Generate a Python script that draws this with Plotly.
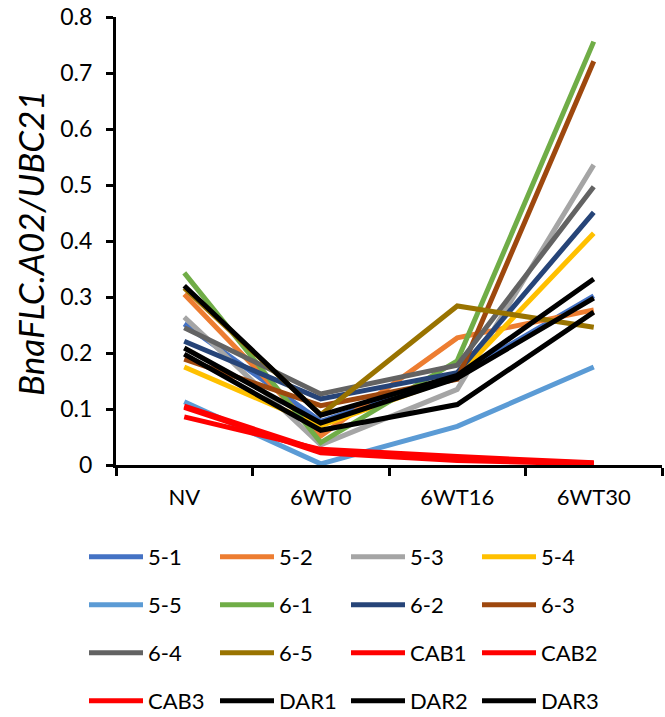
import plotly.graph_objects as go

categories = ["NV", "6WT0", "6WT16", "6WT30"]

series_names = ["5-1", "5-2", "5-3", "5-4", "5-5", "6-1", "6-2", "6-3",
                "6-4", "6-5", "CAB1", "CAB2", "CAB3", "DAR1", "DAR2", "DAR3"]

v_5_1 = [0.252, 0.078, 0.160, 0.302]
v_5_2 = [0.305, 0.052, 0.227, 0.277]
v_5_3 = [0.264, 0.036, 0.135, 0.536]
v_5_4 = [0.175, 0.070, 0.158, 0.414]
v_5_5 = [0.113, 0.002, 0.069, 0.175]
v_6_1 = [0.343, 0.040, 0.186, 0.756]
v_6_2 = [0.221, 0.118, 0.165, 0.451]
v_6_3 = [0.189, 0.106, 0.153, 0.721]
v_6_4 = [0.245, 0.127, 0.178, 0.497]
v_6_5 = [0.316, 0.090, 0.284, 0.246]
v_cab1 = [0.105, 0.025, 0.012, 0.003]
v_cab2 = [0.103, 0.022, 0.008, 0.002]
v_cab3 = [0.086, 0.028, 0.015, 0.004]
v_dar1 = [0.320, 0.089, 0.160, 0.332]
v_dar2 = [0.209, 0.075, 0.155, 0.298]
v_dar3 = [0.198, 0.062, 0.108, 0.273]

values = [v_5_1, v_5_2, v_5_3, v_5_4, v_5_5, v_6_1, v_6_2, v_6_3,
          v_6_4, v_6_5, v_cab1, v_cab2, v_cab3, v_dar1, v_dar2, v_dar3]

colors = ["#4472C4", "#ED7D31", "#A5A5A5", "#FFC000", "#5B9BD5", "#70AD47",
          "#264478", "#9E480E", "#636363", "#997300", "#FF0000", "#FF0000",
          "#FF0000", "#000000", "#000000", "#000000"]

FONT = "Lato, Calibri, sans-serif"

fig = go.Figure()
legend_ids = ["legend", "legend2", "legend3", "legend4"]
for i, (name, vals, col) in enumerate(zip(series_names, values, colors)):
    fig.add_trace(go.Scatter(
        x=categories, y=vals, mode="lines", name=name,
        line=dict(color=col, width=5),
        legend=legend_ids[i // 4],
    ))

# plot area in px: x 116..662, y 17..465
L, R, T, B = 116, 3, 17, 252
W, H = 665, 717
pw = W - L - R
ph = H - T - B

def py(px_y):
    return (H - B - px_y) / ph

def pxx(px_x):
    return (px_x - L) / pw

row_y = [557, 605, 653, 701]
legend_common = dict(
    orientation="h", entrywidth=62, entrywidthmode="pixels",
    font=dict(family=FONT, size=22, color="#000000"),
    bgcolor="rgba(0,0,0,0)", itemwidth=54,
    xanchor="left", yanchor="middle",
)
layout_legends = {}
for lid, ry in zip(legend_ids, row_y):
    layout_legends[lid] = dict(x=pxx(84), y=py(ry), **legend_common)

fig.update_layout(
    width=W, height=H,
    margin=dict(l=L, r=R, t=T, b=B, autoexpand=False),
    paper_bgcolor="white", plot_bgcolor="white",
    showlegend=True,
    font=dict(family=FONT, size=22, color="#000000"),
    xaxis=dict(
        type="category", range=[-0.5, 3.5],
        showline=True, linecolor="#000000", linewidth=3,
        ticks="outside", tickson="boundaries", ticklen=8, tickwidth=3,
        tickcolor="#000000", showgrid=False, zeroline=False,
        ticklabelstandoff=11,
        tickfont=dict(family=FONT, size=22, color="#000000"),
    ),
    yaxis=dict(
        range=[0, 0.8], dtick=0.1, tick0=0,
        showline=True, linecolor="#000000", linewidth=3,
        ticks="outside", ticklen=7, tickwidth=3, tickcolor="#000000",
        showgrid=False, zeroline=False, ticklabelstandoff=9,
        tickfont=dict(family=FONT, size=23, color="#000000"),
        tickformat="~g",
    ),
    annotations=[dict(
        text="<i>BnaFLC.A02/UBC21</i>", textangle=-90,
        xref="paper", yref="paper", x=pxx(30), y=py(243),
        xanchor="center", yanchor="middle", showarrow=False,
        font=dict(family=FONT, size=35, color="#000000"),
    )],
    **layout_legends,
)

fig.write_html("out.html")
